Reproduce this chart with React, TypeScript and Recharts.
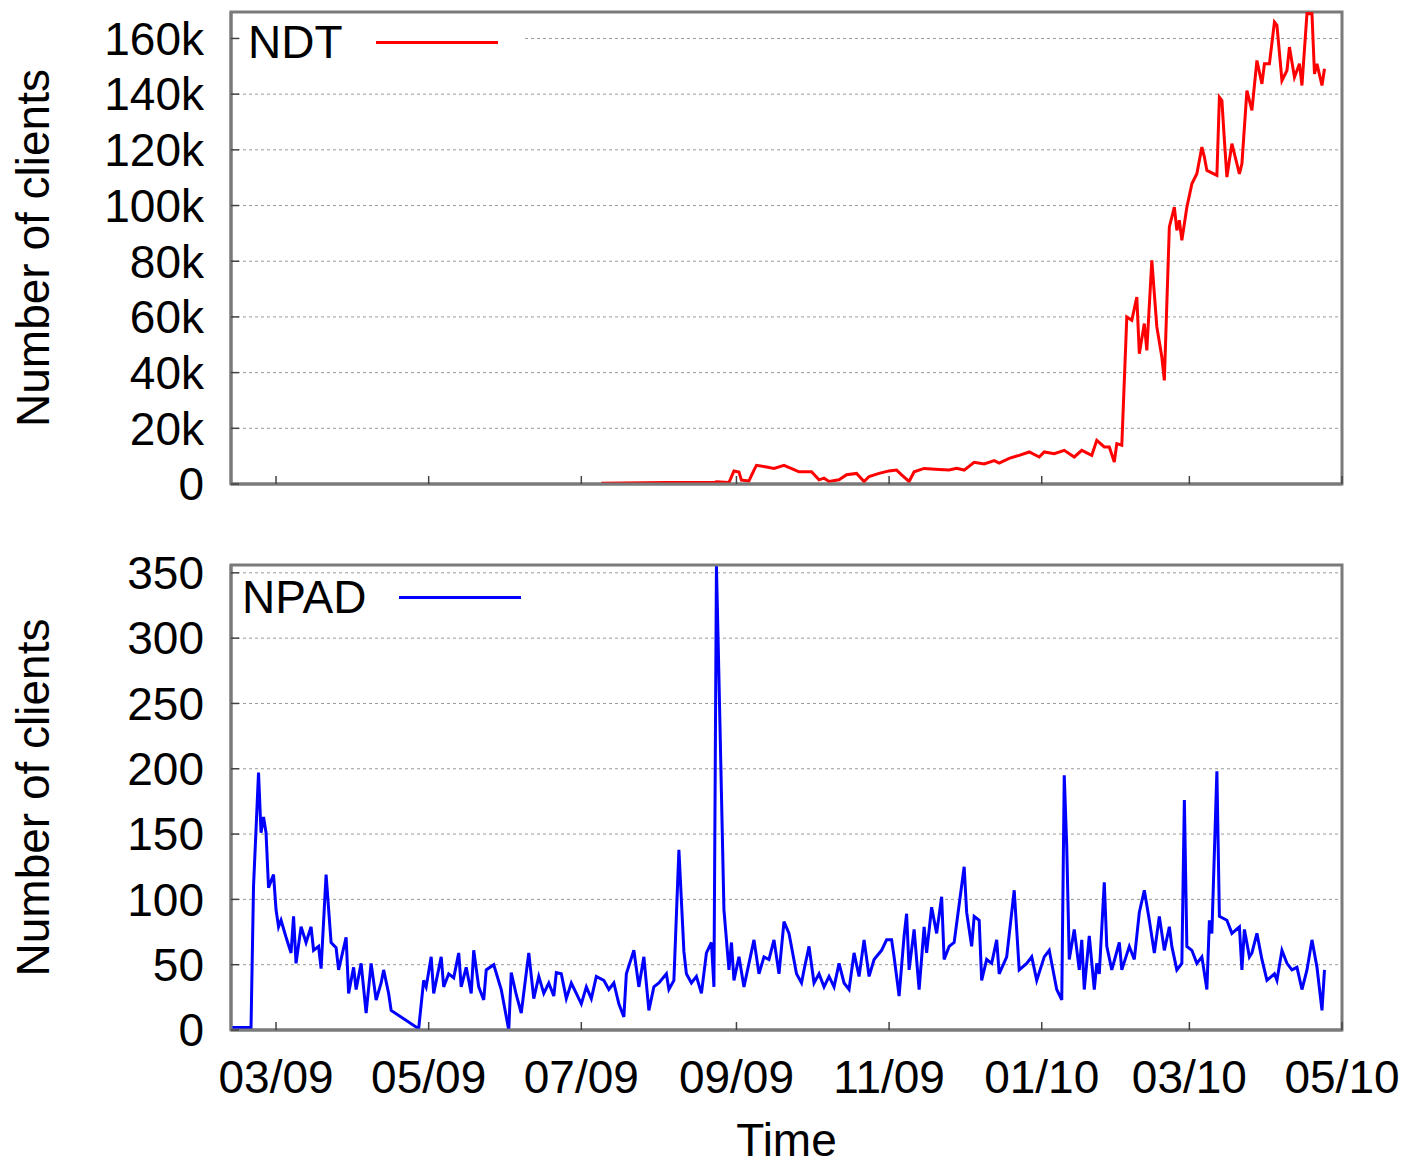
import React from 'react';
import { LineChart, Line, XAxis, YAxis, CartesianGrid, Legend, ReferenceArea } from 'recharts';

// ---- data (x = days since 2009-02-11) ----
const START_DATE = '2009-02-11';
const END_DATE = '2010-05-01';
const tickDates = ['2009-03-01', '2009-05-01', '2009-07-01', '2009-09-01', '2009-11-01', '2010-01-01', '2010-03-01', '2010-05-01'];
const tickLabels = ['03/09', '05/09', '07/09', '09/09', '11/09', '01/10', '03/10', '05/10'];

const ndtDays = [148, 174, 193, 194, 199, 201, 203, 204, 207, 209, 210, 214, 217, 221, 225, 227, 232, 235, 237, 239, 243, 246, 250, 253, 255, 259, 263, 266, 268, 271, 273, 277, 283, 287, 290, 293, 297, 301, 305, 307, 311, 315, 319, 323, 325, 329, 333, 337, 340, 344, 346, 349, 351, 353, 354, 356, 358, 360, 362, 363, 365, 366, 368, 370, 372, 373, 375, 377, 378, 379, 380, 382, 384, 386, 388, 389, 390, 394, 395, 396, 397, 398, 400, 401, 403, 404, 406, 408, 410, 412, 413, 415, 417, 418, 420, 422, 423, 425, 427, 428, 430, 432, 433, 434, 436, 437];
const ndtClients = [300, 500, 500, 800, 500, 4700, 4300, 1400, 1100, 5000, 6700, 6100, 5600, 6700, 5200, 4400, 4400, 1500, 2100, 900, 1500, 3300, 3800, 900, 2700, 3800, 4700, 5000, 3300, 900, 4400, 5600, 5200, 5000, 5600, 5000, 7800, 7200, 8400, 7500, 9200, 10300, 11500, 9700, 11500, 10900, 12100, 9700, 12100, 10300, 15700, 13300, 13300, 7900, 14500, 13900, 60000, 58800, 67100, 46800, 57600, 48000, 80300, 56400, 45600, 37200, 92300, 99400, 91100, 94700, 87500, 99400, 107800, 111400, 121000, 117400, 112600, 110800, 138900, 137700, 123400, 110200, 122200, 118600, 111400, 115000, 141300, 134200, 152100, 143700, 150900, 150900, 165900, 164700, 144900, 148500, 156900, 146100, 150900, 143100, 169000, 168900, 147300, 150900, 143100, 149100];

const npadDays = [0, 8, 9, 11, 12, 13, 14, 15, 17, 18, 19, 20, 22, 24, 25, 26, 28, 30, 32, 33, 35, 36, 38, 40, 42, 43, 46, 47, 49, 50, 52, 54, 56, 58, 60, 61, 63, 64, 75, 77, 78, 80, 81, 84, 85, 87, 89, 91, 92, 94, 96, 97, 99, 101, 102, 105, 108, 111, 112, 114, 116, 119, 121, 123, 125, 127, 129, 130, 132, 134, 136, 138, 140, 142, 144, 146, 149, 151, 153, 155, 157, 158, 161, 163, 165, 167, 169, 171, 174, 175, 177, 179, 181, 182, 184, 186, 188, 190, 192, 193, 194, 195, 196, 197, 199, 200, 201, 203, 205, 207, 209, 211, 213, 215, 217, 219, 221, 223, 226, 228, 229, 231, 233, 235, 237, 239, 241, 243, 245, 247, 249, 251, 253, 255, 257, 260, 262, 264, 265, 267, 269, 270, 271, 273, 275, 277, 278, 280, 282, 284, 285, 287, 289, 293, 294, 296, 297, 299, 300, 302, 304, 306, 307, 310, 313, 315, 318, 320, 322, 325, 327, 330, 332, 333, 334, 335, 337, 339, 340, 341, 343, 345, 346, 347, 349, 350, 352, 355, 356, 359, 361, 363, 365, 367, 369, 371, 373, 375, 376, 378, 380, 381, 382, 384, 386, 388, 390, 391, 392, 394, 395, 398, 400, 403, 404, 405, 407, 408, 410, 412, 414, 417, 418, 420, 422, 424, 426, 428, 430, 432, 434, 436, 437];
const npadClients = [2, 2, 110, 197, 151, 163, 151, 109, 119, 92, 79, 84, 71, 59, 87, 51, 79, 67, 79, 61, 64, 47, 119, 67, 63, 46, 71, 28, 48, 31, 51, 13, 51, 23, 36, 46, 28, 15, 1, 38, 33, 56, 28, 56, 33, 43, 40, 59, 33, 48, 28, 61, 33, 23, 46, 50, 31, 0, 44, 27, 13, 59, 24, 41, 28, 36, 26, 44, 43, 24, 36, 28, 20, 33, 24, 41, 38, 31, 36, 20, 10, 43, 61, 33, 56, 15, 33, 36, 43, 31, 38, 138, 60, 43, 36, 41, 28, 59, 67, 33, 355, 270, 181, 92, 46, 67, 38, 56, 33, 51, 69, 43, 56, 54, 69, 43, 83, 74, 43, 36, 46, 64, 36, 43, 33, 41, 33, 51, 36, 31, 59, 41, 69, 41, 54, 61, 69, 69, 56, 26, 72, 89, 46, 77, 31, 79, 59, 94, 74, 102, 54, 64, 67, 125, 90, 64, 87, 84, 38, 54, 51, 69, 43, 56, 107, 46, 51, 56, 38, 56, 61, 31, 23, 195, 140, 54, 77, 46, 69, 31, 72, 31, 51, 43, 113, 64, 46, 67, 46, 64, 54, 90, 107, 84, 59, 87, 61, 79, 64, 46, 51, 176, 64, 61, 51, 56, 31, 84, 74, 198, 87, 84, 74, 79, 46, 77, 56, 59, 74, 54, 38, 43, 38, 61, 51, 46, 48, 31, 46, 69, 48, 15, 46];

const ndtTicks = [0, 20000, 40000, 60000, 80000, 100000, 120000, 140000, 160000];
const ndtMax = 169500;
const npadTicks = [0, 50, 100, 150, 200, 250, 300, 350];
const npadMax = 356;

// ---- helpers ----
const DAY_MS = 86400000;
const startMs = Date.parse(START_DATE + 'T00:00:00Z');
const dayOf = (iso: string) => Math.round((Date.parse(iso + 'T00:00:00Z') - startMs) / DAY_MS);
const xTicks = tickDates.map(dayOf);
const xMax = dayOf(END_DATE);
const xLabel = (v: number) => {
  const i = xTicks.indexOf(v);
  return i >= 0 ? tickLabels[i] : '';
};

const ndtData = ndtDays.map((d, i) => ({ day: d, clients: ndtClients[i] }));
const npadData = npadDays.map((d, i) => ({ day: d, clients: npadClients[i] }));

const FONT = '"Liberation Sans", Arial, Helvetica, sans-serif';
const BORDER = '#7a7a7a';
const FS = 46;
const axisLineStyle = { stroke: BORDER, strokeWidth: 3 };
const tickLineStyle = { stroke: '#444', strokeWidth: 1.5 };

const makeKey = () => (props: any) => {
  const item = props.payload && props.payload[0];
  if (!item) return null;
  return (
    <div
      style={{
        display: 'flex',
        alignItems: 'center',
        background: '#fff',
        height: 44,
        lineHeight: '44px',
        fontSize: FS,
        color: '#000',
        padding: '0 24px 0 8px',
        fontFamily: FONT,
        whiteSpace: 'nowrap',
      }}
    >
      <span>{item.value}</span>
      <span style={{ display: 'inline-block', width: 122, height: 3, background: item.color, marginLeft: 33 }} />
    </div>
  );
};

const yLabel = {
  value: 'Number of clients',
  angle: -90,
  position: 'insideLeft' as const,
  offset: 33,
  style: { textAnchor: 'middle', fontSize: FS, fill: '#000' },
};

export default function App() {
  return (
    <div style={{ position: 'absolute', left: 0, top: 0, width: 1403, height: 1161, background: '#fff', fontFamily: FONT }}>
      <LineChart width={1403} height={540} data={ndtData} margin={{ top: 12, right: 61, left: 0, bottom: 0 }}>
        <CartesianGrid vertical={false} stroke="#9a9a9a" strokeDasharray="3 3" strokeWidth={1} />
        <XAxis
          dataKey="day"
          type="number"
          domain={[0, xMax]}
          ticks={xTicks}
          interval={0}
          tickFormatter={() => ''}
          height={56}
          axisLine={axisLineStyle}
          tickLine={tickLineStyle}
          tickSize={-8}
          allowDataOverflow
        />
        <YAxis
          type="number"
          domain={[0, ndtMax]}
          ticks={ndtTicks}
          interval={0}
          allowDataOverflow
          width={231}
          tickFormatter={(v: number) => (v === 0 ? '0' : `${v / 1000}k`)}
          tick={{ fontSize: FS, fill: '#000' }}
          tickSize={-8}
          tickMargin={35}
          axisLine={axisLineStyle}
          tickLine={tickLineStyle}
          label={yLabel}
        />
        <ReferenceArea x1={0} x2={xMax} y1={0} y2={ndtMax} fill="none" fillOpacity={0} stroke={BORDER} strokeWidth={3} ifOverflow="visible" />
        <Legend
          layout="vertical"
          align="center"
          verticalAlign="middle"
          content={makeKey()}
          wrapperStyle={{ left: 240, top: 20, width: 'auto', height: 'auto' }}
        />
        <Line type="linear" dataKey="clients" name="NDT" stroke="#ff0000" strokeWidth={3} dot={false} isAnimationActive={false} />
      </LineChart>
      <LineChart width={1403} height={621} data={npadData} margin={{ top: 25, right: 61, left: 0, bottom: 0 }}>
        <CartesianGrid vertical={false} stroke="#9a9a9a" strokeDasharray="3 3" strokeWidth={1} />
        <XAxis
          dataKey="day"
          type="number"
          domain={[0, xMax]}
          ticks={xTicks}
          interval={0}
          tickFormatter={xLabel}
          height={131}
          axisLine={axisLineStyle}
          tickLine={tickLineStyle}
          tickSize={-8}
          tickMargin={38}
          tick={{ fontSize: FS, fill: '#000' }}
          allowDataOverflow
          label={{ value: 'Time', position: 'insideBottom', offset: 5, style: { fontSize: FS, fill: '#000' } }}
        />
        <YAxis
          type="number"
          domain={[0, npadMax]}
          ticks={npadTicks}
          interval={0}
          allowDataOverflow
          width={231}
          tick={{ fontSize: FS, fill: '#000' }}
          tickSize={-8}
          tickMargin={35}
          axisLine={axisLineStyle}
          tickLine={tickLineStyle}
          label={yLabel}
        />
        <ReferenceArea x1={0} x2={xMax} y1={0} y2={npadMax} fill="none" fillOpacity={0} stroke={BORDER} strokeWidth={3} ifOverflow="visible" />
        <Legend
          layout="vertical"
          align="center"
          verticalAlign="middle"
          content={makeKey()}
          wrapperStyle={{ left: 234, top: 35, width: 'auto', height: 'auto' }}
        />
        <Line type="linear" dataKey="clients" name="NPAD" stroke="#0000ff" strokeWidth={3} dot={false} isAnimationActive={false} />
      </LineChart>
    </div>
  );
}
